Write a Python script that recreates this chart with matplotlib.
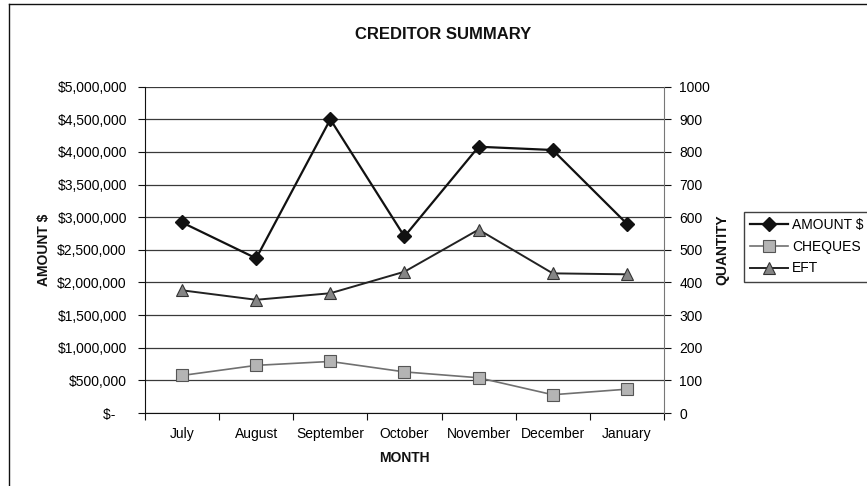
import matplotlib

matplotlib.use("Agg")
import matplotlib.pyplot as plt
from matplotlib.lines import Line2D
from matplotlib.ticker import FuncFormatter, MultipleLocator

plt.rcParams["font.family"] = ["Liberation Sans", "DejaVu Sans"]

# ── Data ──────────────────────────────────────────────────────────────────────
months = ["July", "August", "September", "October", "November", "December", "January"]
amount = [2920000, 2370000, 4500000, 2705000, 4080000, 4030000, 2900000]
cheques = [115, 146, 158, 126, 108, 56, 73]
eft = [376, 347, 367, 433, 562, 428, 425]

INK = "#111111"
GRID = "#3a3a3a"

fig = plt.figure(figsize=(8.67, 4.86), dpi=100)
fig.patch.set_facecolor("white")

# chart-area border (only top and left edges show inside the frame)
fig.add_artist(Line2D([0.0104, 0.0104], [0, 0.992], color=INK, lw=1.0, transform=fig.transFigure))
fig.add_artist(Line2D([0.0104, 1.0], [0.992, 0.992], color=INK, lw=1.0, transform=fig.transFigure))

ax = fig.add_axes([0.1672, 0.1502, 0.5986, 0.6714])
ax2 = ax.twinx()

x = list(range(len(months)))

# ── Left axis: dollar amounts ─────────────────────────────────────────────────
ax.set_ylim(0, 5000000)
ax.yaxis.set_major_locator(MultipleLocator(500000))
ax.yaxis.set_major_formatter(
    FuncFormatter(lambda v, _: "$-   " if v == 0 else f"${v:,.0f}")
)
ax.grid(axis="y", color=GRID, lw=0.9)
ax.set_axisbelow(True)

ax.set_xlim(-0.5, len(months) - 0.5)
ax.set_xticks([i - 0.5 for i in range(len(months) + 1)])
ax.set_xticklabels([])
ax.set_xticks(x, minor=True)
ax.set_xticklabels(months, minor=True)
ax.tick_params(axis="x", which="minor", length=0, pad=10, labelsize=10)
ax.tick_params(axis="x", which="major", length=5, direction="out", color=INK)
ax.tick_params(axis="y", length=5, direction="out", color=INK, labelsize=10, pad=8)

for side in ("top", "right"):
    ax.spines[side].set_visible(False)
ax.spines["left"].set_color(INK)
ax.spines["bottom"].set_color(INK)

# ── Right axis: quantities ────────────────────────────────────────────────────
ax2.set_ylim(0, 1000)
ax2.yaxis.set_major_locator(MultipleLocator(100))
ax2.tick_params(axis="y", length=5, direction="out", color=INK, labelsize=10, pad=6)
for side in ("top", "left", "bottom"):
    ax2.spines[side].set_visible(False)
ax2.spines["right"].set_color("#777777")

# ── Series ────────────────────────────────────────────────────────────────────
l_amt, = ax.plot(
    x, amount, color=INK, lw=1.6, marker="D", markersize=7,
    markerfacecolor=INK, markeredgecolor=INK, label="AMOUNT $", zorder=4,
)
l_chq, = ax2.plot(
    x, cheques, color="#707070", lw=1.2, marker="s", markersize=8,
    markerfacecolor="#b4b4b4", markeredgecolor="#555555", markeredgewidth=0.8,
    label="CHEQUES", zorder=3,
)
l_eft, = ax2.plot(
    x, eft, color="#222222", lw=1.4, marker="^", markersize=9,
    markerfacecolor="#858585", markeredgecolor="#333333", markeredgewidth=0.8,
    label="EFT", zorder=3,
)

# ── Text ──────────────────────────────────────────────────────────────────────
fig.text(0.511, 0.928, "CREDITOR SUMMARY", ha="center", va="center",
         fontsize=12, fontweight="bold", color=INK)
fig.text(0.051, 0.486, "AMOUNT $", rotation=90, ha="center", va="center",
         fontsize=10, fontweight="bold", color=INK)
fig.text(0.833, 0.486, "QUANTITY", rotation=90, ha="center", va="center",
         fontsize=10, fontweight="bold", color=INK)
fig.text(0.466, 0.058, "MONTH", ha="center", va="center",
         fontsize=10, fontweight="bold", color=INK)

leg = fig.legend(
    [l_amt, l_chq, l_eft], ["AMOUNT $", "CHEQUES", "EFT"],
    loc="upper left", bbox_to_anchor=(0.858, 0.564), bbox_transform=fig.transFigure,
    fontsize=10, frameon=True, fancybox=False, handlelength=2.7,
    handletextpad=0.3, borderpad=0.45, labelspacing=0.55, borderaxespad=0,
)
leg.get_frame().set_edgecolor(INK)
leg.get_frame().set_linewidth(1.0)

fig.savefig("out.png", dpi=100, facecolor="white")
